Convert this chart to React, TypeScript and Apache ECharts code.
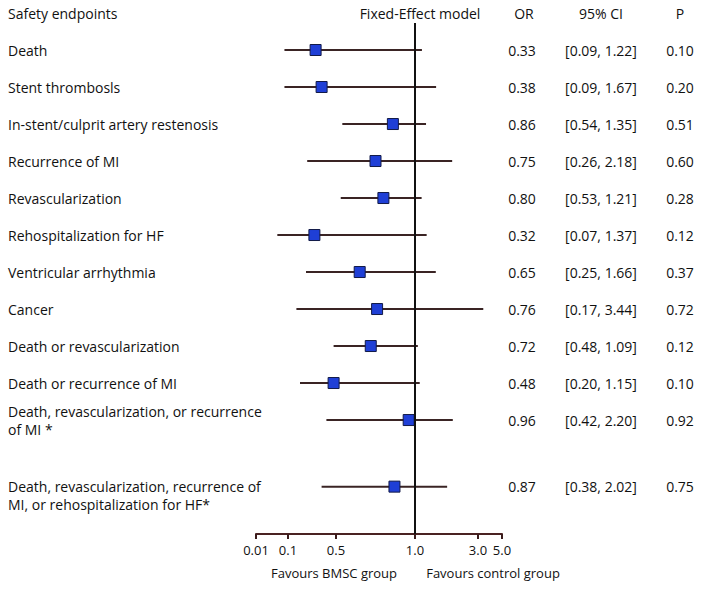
import React, { useEffect, useRef } from "react";
import * as echarts from "echarts";

// ---- data ----
const endpoints = [
  "Death",
  "Stent thrombosls",
  "In-stent/culprit artery restenosis",
  "Recurrence of MI",
  "Revascularization",
  "Rehospitalization for HF",
  "Ventricular arrhythmia",
  "Cancer",
  "Death or revascularization",
  "Death or recurrence of MI",
  "Death, revascularization, or recurrence\nof MI *",
  "Death, revascularization, recurrence of\nMI, or rehospitalization for HF*",
];
const orValues = [0.33, 0.38, 0.86, 0.75, 0.8, 0.32, 0.65, 0.76, 0.72, 0.48, 0.96, 0.87];
const ciLow = [0.09, 0.09, 0.54, 0.26, 0.53, 0.07, 0.25, 0.17, 0.48, 0.2, 0.42, 0.38];
const ciHigh = [1.22, 1.67, 1.35, 2.18, 1.21, 1.37, 1.66, 3.44, 1.09, 1.15, 2.2, 2.02];
const pValues = ["0.10", "0.20", "0.51", "0.60", "0.28", "0.12", "0.37", "0.72", "0.12", "0.10", "0.92", "0.75"];
const tickValues = [0.01, 0.1, 0.5, 1.0, 3.0, 5.0];
const tickLabels = ["0.01", "0.1", "0.5", "1.0", "3.0", "5.0"];

// ---- layout (axis geometry of the hand-drawn, non-uniform OR scale) ----
const knotUnits = [0, 32, 80, 159, 222, 246];
const AXIS_MAX = 246;
const extraGapBeforeLast = 0.8;
const anchorFirstLine = new Set([11]);

const fmt2 = (v: number) => v.toFixed(2);
const ciText = (i: number) => `[${fmt2(ciLow[i])}, ${fmt2(ciHigh[i])}]`;

function xPos(v: number): number {
  for (let k = 0; k < tickValues.length - 1; k++) {
    const a = tickValues[k];
    const b = tickValues[k + 1];
    if (v <= b || k === tickValues.length - 2) {
      const t = (v - a) / (b - a);
      return knotUnits[k] + t * (knotUnits[k + 1] - knotUnits[k]);
    }
  }
  return 0;
}

const rowPos = endpoints.map((_, i) => (i === endpoints.length - 1 ? i + extraGapBeforeLast : i));
const rowIndexOf = (v: number) => {
  let best = 0;
  let d = Infinity;
  rowPos.forEach((p, i) => {
    if (Math.abs(p - v) < d) {
      d = Math.abs(p - v);
      best = i;
    }
  });
  return best;
};

const FONT = "'Open Sans', 'Noto Sans', sans-serif";
const FS = 14;
const TXT = "#111111";

export default function App() {
  const ref = useRef<HTMLDivElement>(null);
  useEffect(() => {
    if (!ref.current) return;
    const chart = echarts.init(ref.current, undefined, { renderer: "svg" });

    const yBase = {
      type: "value" as const,
      inverse: true,
      min: -0.73,
      max: 13.08,
      axisLine: { show: false },
      axisTick: { show: false },
      splitLine: { show: false },
    };
    const rightAxis = (margin: number, f: (i: number) => string) => ({
      ...yBase,
      position: "right" as const,
      axisLabel: {
        customValues: rowPos,
        margin,
        align: "center" as const,
        fontFamily: FONT,
        fontSize: FS,
        color: TXT,
        formatter: (v: number) => f(rowIndexOf(v)),
      },
    });
    const head = (text: string, x: number, y: number, align: string = "center", size: number = FS) => ({
      type: "text",
      x,
      y,
      style: { text, font: `${size}px ${FONT}`, fill: TXT, align, verticalAlign: "middle" },
    });

    chart.setOption({
      animation: false,
      backgroundColor: "#ffffff",
      textStyle: { fontFamily: FONT },
      grid: { left: 256, width: 246, top: 23, bottom: 56, containLabel: false },
      xAxis: {
        type: "value",
        min: 0,
        max: AXIS_MAX,
        splitLine: { show: false },
        axisLine: { show: true, onZero: false, lineStyle: { color: "#4a2222", width: 2 } },
        axisTick: {
          show: true,
          customValues: knotUnits,
          length: 5,
          lineStyle: { color: "#3a1c1c", width: 2 },
        },
        axisLabel: {
          customValues: knotUnits,
          margin: 9,
          fontFamily: FONT,
          fontSize: 13,
          color: TXT,
          formatter: (v: number) => {
            const k = knotUnits.findIndex((u) => Math.abs(u - v) < 0.01);
            return k >= 0 ? tickLabels[k] : "";
          },
        },
      },
      yAxis: [
        {
          ...yBase,
          position: "left",
          axisLabel: {
            customValues: rowPos,
            margin: 248,
            align: "left",
            fontFamily: FONT,
            fontSize: FS,
            lineHeight: 18,
            color: TXT,
            formatter: (v: number) => {
              const i = rowIndexOf(v);
              return (anchorFirstLine.has(i) ? "\n" : "") + endpoints[i];
            },
          },
        },
        rightAxis(20, (i) => fmt2(orValues[i])),
        rightAxis(99, (i) => ciText(i)),
        rightAxis(178, (i) => pValues[i]),
      ],
      series: [
        {
          type: "custom",
          yAxisIndex: 0,
          data: endpoints.map((_, i) => [xPos(ciLow[i]), xPos(ciHigh[i]), rowPos[i]]),
          renderItem: (params: any, api: any) => {
            const p1 = api.coord([api.value(0), api.value(2)]);
            const p2 = api.coord([api.value(1), api.value(2)]);
            return {
              type: "line",
              shape: { x1: p1[0], y1: p1[1], x2: p2[0], y2: p2[1] },
              style: { stroke: "#3a2424", lineWidth: 2 },
            };
          },
          z: 2,
        },
        {
          type: "scatter",
          yAxisIndex: 0,
          symbol: "rect",
          symbolSize: 11,
          itemStyle: { color: "#1f3fd6", borderColor: "#121a48", borderWidth: 1, opacity: 1 },
          data: endpoints.map((_, i) => [xPos(orValues[i]), rowPos[i]]),
          z: 4,
          markLine: {
            silent: true,
            symbol: "none",
            label: { show: false },
            lineStyle: { color: "#111111", width: 2, type: "solid" },
            data: [{ xAxis: xPos(1.0) }],
          },
        },
      ],
      graphic: [
        head("Safety endpoints", 8, 13, "left"),
        head("Fixed-Effect model", 420, 13),
        head("OR", 524, 13),
        head("95% CI", 601, 13),
        head("P", 680, 13),
        head("Favours BMSC group", 334, 573, "center", 13),
        head("Favours control group", 493, 573, "center", 13),
      ],
    });
    return () => chart.dispose();
  }, []);
  return <div ref={ref} style={{ position: "fixed", left: 0, top: 0, width: 714, height: 590 }} />;
}
